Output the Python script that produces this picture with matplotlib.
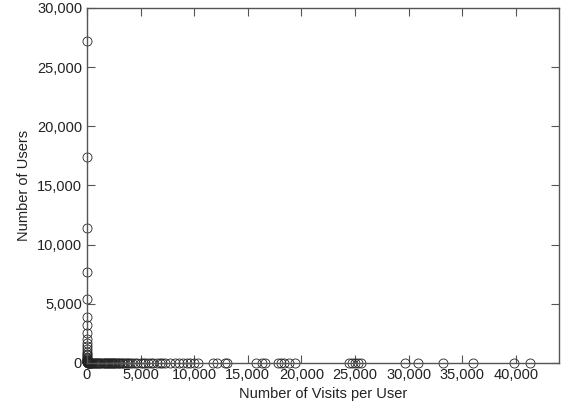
import matplotlib
matplotlib.use("Agg")
import matplotlib.pyplot as plt
from matplotlib.ticker import FuncFormatter

plt.rcParams['font.family'] = ['Liberation Sans', 'DejaVu Sans']

# near-origin: visits 1..30, many users
visits_head = [1, 2, 3, 4, 5, 6, 7, 8, 9, 10, 11, 12, 13, 14, 15, 16, 17, 18, 19, 20, 22, 24, 26, 28, 30]
users_head = [27200, 17400, 11400, 7700, 5400, 3900, 3200, 2500, 2000, 1700, 1400, 1150, 950, 800, 650, 520, 430, 350, 290, 240, 190, 150, 120, 95, 75]

# tail: visits with small user counts
visits_tail = [40, 60, 80, 100, 130, 160, 200, 250, 300, 350, 400, 480, 560, 650, 750, 850, 950,
               1050, 1150, 1250, 1350, 1450, 1550, 1650, 1750, 1850, 1950, 2050, 2150, 2250, 2350,
               2450, 2550, 2650, 2750, 2850, 2950, 3100, 3250, 3400, 3550, 3700, 3850, 4000, 4200,
               4500, 4700, 5000, 5200, 5400, 5700, 6000, 6200, 6500, 6800, 7000, 7300, 7700, 8200,
               8600, 9000, 9300, 9600, 10000, 10400, 11800, 12100, 12900, 13100, 15800, 16300, 16600,
               17800, 18100, 18400, 18800, 19400, 24400, 24700, 25000, 25300, 25600, 29700, 30900,
               33200, 36000, 39800, 41300]
users_tail = [55, 40, 30, 25, 20, 15, 12, 10, 8, 7, 6, 5, 4, 4, 3, 3, 3,
              2, 2, 2, 2, 2, 2, 2, 2, 2, 2, 1, 1, 1, 1,
              1, 1, 1, 1, 1, 1, 1, 1, 1, 1, 1, 1, 1, 1,
              1, 1, 1, 1, 1, 1, 1, 1, 1, 1, 1, 1, 1, 1,
              1, 1, 1, 1, 1, 1, 1, 1, 1, 1, 1, 1, 1,
              1, 1, 1, 1, 1, 1, 1, 1, 1, 1, 1, 1,
              1, 1, 1, 1]

visits = visits_head + visits_tail
users = users_head + users_tail

fig = plt.figure(figsize=(5.61, 4.12), dpi=100)
ax = fig.add_axes([0.155, 0.119, 0.841, 0.862])
ax.plot(visits, users, linestyle='none', marker='o', markersize=6.5,
        markerfacecolor='none', markeredgecolor='#222222', markeredgewidth=0.6, clip_on=False)
ax.set_xlim(0, 44000)
ax.set_ylim(0, 30000)
ax.set_xticks(range(0, 40001, 5000))
ax.set_yticks(range(0, 30001, 5000))
fmt = FuncFormatter(lambda v, p: f"{int(v):,}")
ax.xaxis.set_major_formatter(fmt)
ax.yaxis.set_major_formatter(fmt)
for s in ax.spines.values():
    s.set_color('#555555')
    s.set_linewidth(1.0)
ax.tick_params(direction='in', top=True, right=True, length=6, color='#555555',
               labelsize=10.5, labelcolor='#222222')
ax.set_xlabel('Number of Visits per User', fontsize=10.5, color='#222222')
ax.set_ylabel('Number of Users', fontsize=10.5, color='#222222')
fig.savefig('out.png', dpi=100)
